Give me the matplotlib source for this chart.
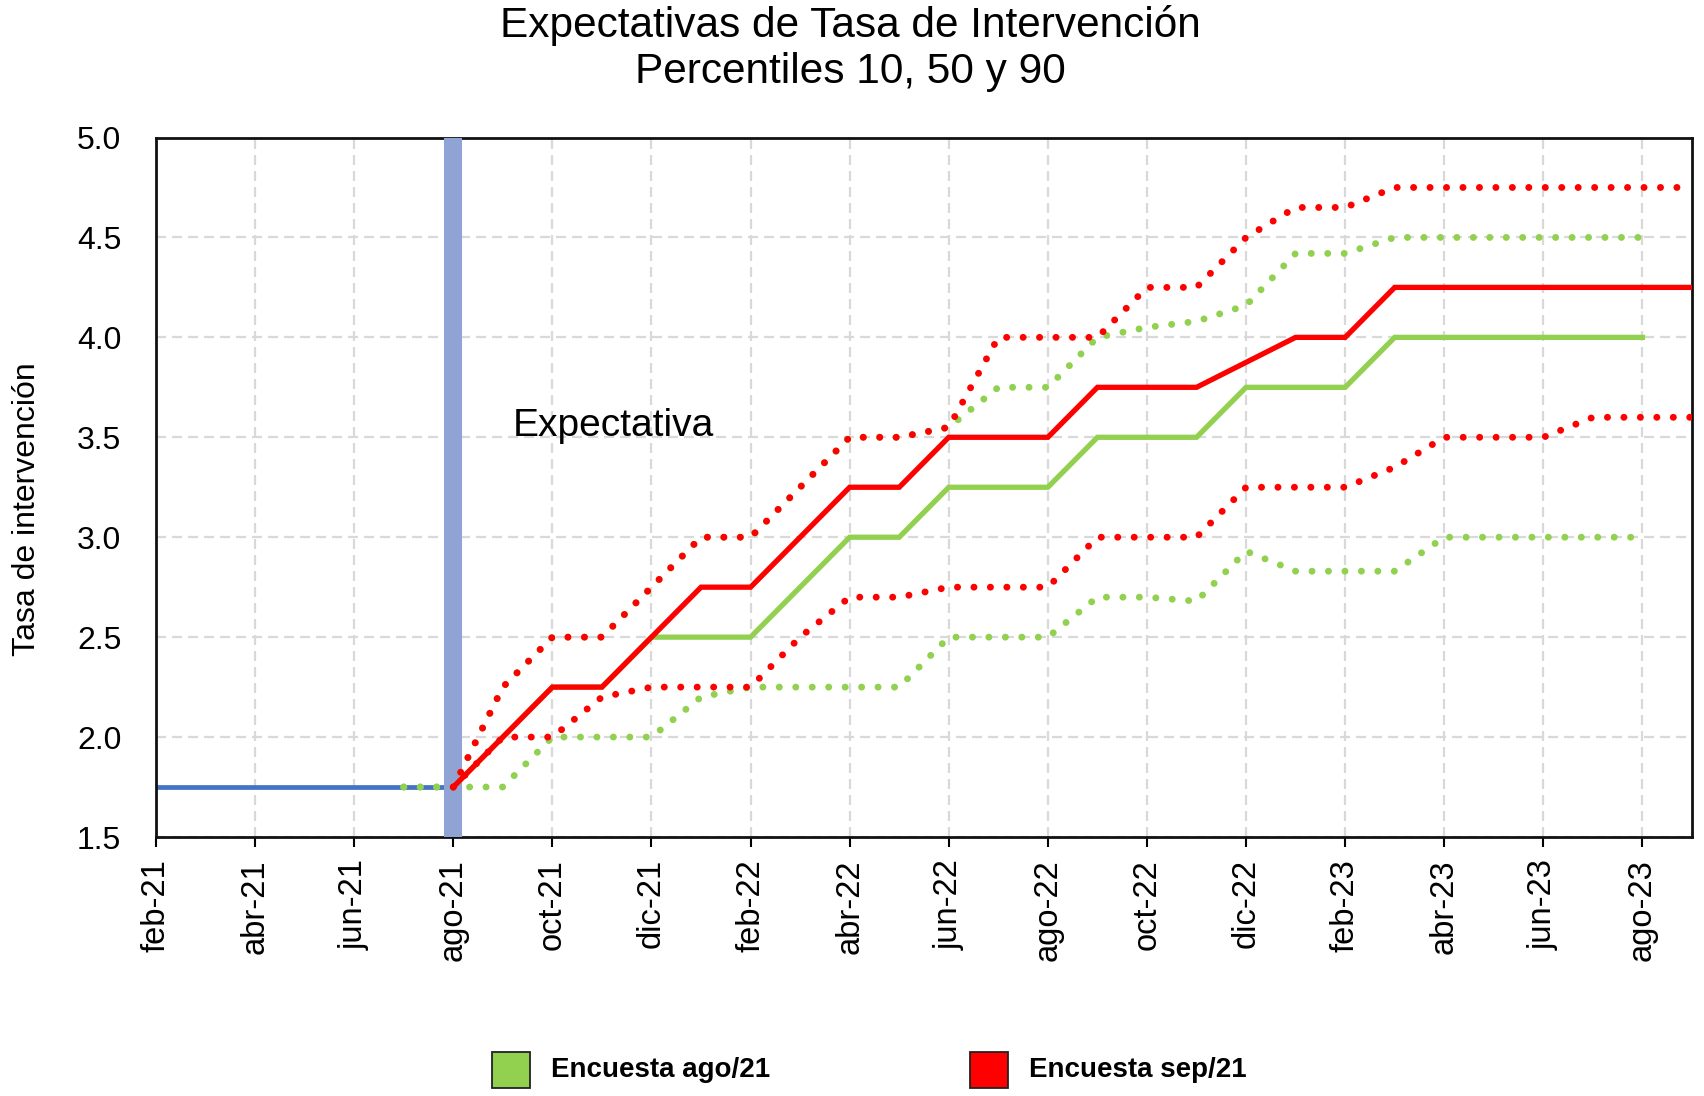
import numpy as np
import matplotlib
matplotlib.use("Agg")
import matplotlib.pyplot as plt
from matplotlib.patches import Rectangle

plt.rcParams['font.family'] = ['Liberation Sans', 'DejaVu Sans']

#%% data
months = ['feb-21', 'mar-21', 'abr-21', 'may-21', 'jun-21', 'jul-21', 'ago-21', 'sep-21',
          'oct-21', 'nov-21', 'dic-21', 'ene-22', 'feb-22', 'mar-22', 'abr-22', 'may-22',
          'jun-22', 'jul-22', 'ago-22', 'sep-22', 'oct-22', 'nov-22', 'dic-22', 'ene-23',
          'feb-23', 'mar-23', 'abr-23', 'may-23', 'jun-23', 'jul-23', 'ago-23', 'sep-23']

# observed policy rate
hist_start = 'feb-21'
hist = [1.75, 1.75, 1.75, 1.75, 1.75, 1.75, 1.75]

# Encuesta ago/21
ago_p50_start = 'ago-21'
ago_p50 = [1.75, 2.0, 2.25, 2.25, 2.5, 2.5, 2.5, 2.75, 3.0, 3.0, 3.25, 3.25, 3.25,
           3.5, 3.5, 3.5, 3.75, 3.75, 3.75, 4.0, 4.0, 4.0, 4.0, 4.0, 4.0]
ago_band_start = 'jul-21'
ago_p10 = [1.75, 1.75, 1.75, 2.0, 2.0, 2.0, 2.2, 2.25, 2.25, 2.25, 2.25, 2.5, 2.5,
           2.5, 2.7, 2.7, 2.68, 2.93, 2.83, 2.83, 2.83, 3.0, 3.0, 3.0, 3.0, 3.0]
ago_p90 = [1.75, 1.75, 2.25, 2.5, 2.5, 2.75, 3.0, 3.0, 3.25, 3.5, 3.5, 3.55, 3.75,
           3.75, 4.0, 4.05, 4.08, 4.16, 4.42, 4.42, 4.5, 4.5, 4.5, 4.5, 4.5, 4.5]

# Encuesta sep/21
sep_start = 'ago-21'
sep_p10 = [1.75, 2.0, 2.0, 2.2, 2.25, 2.25, 2.25, 2.5, 2.7, 2.7, 2.75, 2.75, 2.75,
           3.0, 3.0, 3.0, 3.25, 3.25, 3.25, 3.35, 3.5, 3.5, 3.5, 3.6, 3.6, 3.6]
sep_p50 = [1.75, 2.0, 2.25, 2.25, 2.5, 2.75, 2.75, 3.0, 3.25, 3.25, 3.5, 3.5, 3.5,
           3.75, 3.75, 3.75, 3.875, 4.0, 4.0, 4.25, 4.25, 4.25, 4.25, 4.25, 4.25, 4.25]
sep_p90 = [1.75, 2.25, 2.5, 2.5, 2.75, 3.0, 3.0, 3.25, 3.5, 3.5, 3.55, 4.0, 4.0,
           4.0, 4.25, 4.25, 4.5, 4.65, 4.65, 4.75, 4.75, 4.75, 4.75, 4.75, 4.75, 4.75]

cut_month = 'ago-21'


def xpos(start, vals):
    i0 = months.index(start)
    return np.arange(i0, i0 + len(vals))


#%% plot
W, H = 1704, 1096
fig = plt.figure(figsize=(W / 100, H / 100), dpi=100)
ax = fig.add_axes([156 / W, 1 - 837 / H, (1692 - 156) / W, (837 - 137.5) / H])

green = '#92D050'
red = '#FF0000'
dots = dict(linestyle=(0, (0.01, 2.36)), dash_capstyle='round', lw=5.0)

ax.plot(xpos(hist_start, hist), hist, color='#4472C4', lw=3.4, zorder=2)
ax.axvline(months.index(cut_month), color='#8FA3D4', lw=13, zorder=3)

ax.plot(xpos(ago_band_start, ago_p10), ago_p10, color=green, zorder=4, **dots)
ax.plot(xpos(ago_band_start, ago_p90), ago_p90, color=green, zorder=4, **dots)
ax.plot(xpos(ago_p50_start, ago_p50), ago_p50, color=green, lw=3.8, zorder=4,
        solid_joinstyle='miter')

ax.plot(xpos(sep_start, sep_p10), sep_p10, color=red, zorder=5, **dots)
ax.plot(xpos(sep_start, sep_p90), sep_p90, color=red, zorder=5, **dots)
ax.plot(xpos(sep_start, sep_p50), sep_p50, color=red, lw=3.8, zorder=5,
        solid_joinstyle='miter')

ax.text(7.21, 3.557, 'Expectativa', fontsize=28, ha='left', va='center')

ax.set_xlim(0, len(months) - 1)
ax.set_ylim(1.5, 5.0)
ax.set_xticks(range(0, len(months) - 1, 2))
ax.set_xticklabels(months[0:len(months) - 1:2])
ax.set_yticks(np.arange(1.5, 5.01, 0.5))
ax.set_yticklabels(['%.1f' % v for v in np.arange(1.5, 5.01, 0.5)])

ax.grid(True, color='#D9D9D9', linestyle=(0, (4.5, 2.7)), linewidth=1.6)
ax.set_axisbelow(True)
for s in ax.spines.values():
    s.set_linewidth(2)
    s.set_color('#111111')

ax.tick_params(axis='x', length=7, width=1.5, direction='out', pad=9,
               labelsize=23.5, labelrotation=90)
ax.tick_params(axis='y', length=0, pad=25, labelsize=23)

fig.text(850 / W, 1 - 26 / H, 'Expectativas de Tasa de Intervención',
         ha='center', va='center', fontsize=30.5)
fig.text(850 / W, 1 - 72 / H, 'Percentiles 10, 50 y 90',
         ha='center', va='center', fontsize=30.5)
fig.text(27 / W, 1 - 509 / H, 'Tasa de intervención', rotation=90,
         ha='center', va='center', fontsize=23)

# legend at the bottom
for x0, col, lab in [(492, green, 'Encuesta ago/21'), (970, red, 'Encuesta sep/21')]:
    fig.add_artist(Rectangle((x0 / W, 1 - 1088 / H), 38 / W, 36 / H,
                             transform=fig.transFigure, facecolor=col,
                             edgecolor='#222222', lw=1.3))
    fig.text((x0 + 59) / W, 1 - 1070 / H, lab, fontsize=20,
             fontweight='bold', ha='left', va='center')

fig.savefig('out.png', dpi=100)
